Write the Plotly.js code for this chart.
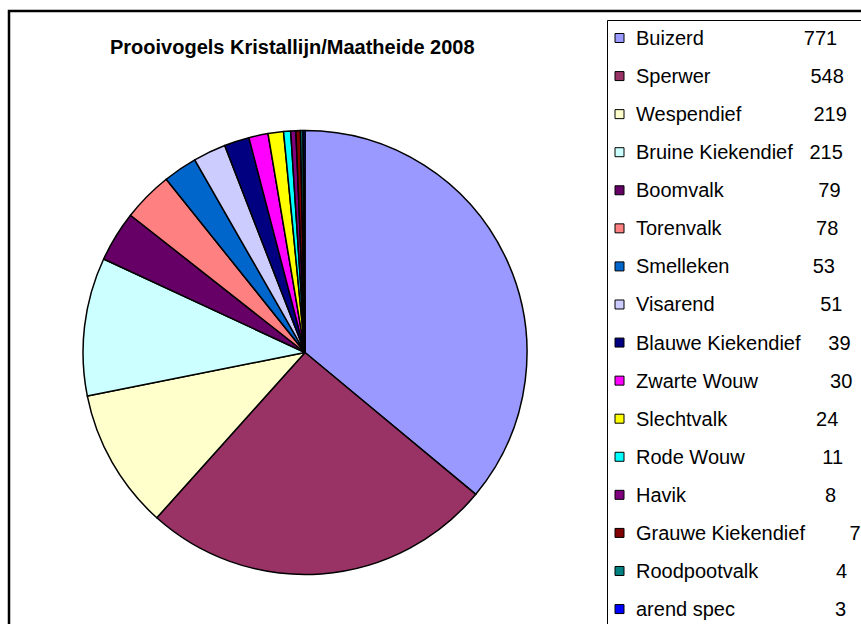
<!DOCTYPE html>
<html>
<head>
<meta charset="utf-8">
<script src="https://cdn.plot.ly/plotly-3.0.1.min.js"></script>
<style>
  html, body { margin: 0; padding: 0; background: #ffffff; }
  #chart { width: 861px; height: 624px; }
</style>
</head>
<body>
<div id="chart"></div>
<script>
// ---- data ----
const chartTitle = "Prooivogels Kristallijn/Maatheide 2008";
const species = [
  "Buizerd", "Sperwer", "Wespendief", "Bruine Kiekendief", "Boomvalk",
  "Torenvalk", "Smelleken", "Visarend", "Blauwe Kiekendief", "Zwarte Wouw",
  "Slechtvalk", "Rode Wouw", "Havik", "Grauwe Kiekendief", "Roodpootvalk", "arend spec"
];
const counts = [771, 548, 219, 215, 79, 78, 53, 51, 39, 30, 24, 11, 8, 7, 4, 3];
const sliceColors = [
  "#9999FF", "#993366", "#FFFFCC", "#CCFFFF", "#660066",
  "#FF8080", "#0066CC", "#CCCCFF", "#000080", "#FF00FF",
  "#FFFF00", "#00FFFF", "#800080", "#800000", "#008080", "#0000FF"
];

// ---- layout helpers (legend text padding, as in the original category text) ----
const padSpaces = [18, 18, 13, 3, 17, 17, 15, 19, 5, 13, 16, 14, 25, 8, 14, 18];

const W = 861, H = 624;
const px = x => x / W;
const py = y => 1 - y / H;

const trace = {
  type: "pie",
  labels: species,
  values: counts,
  sort: false,
  direction: "clockwise",
  rotation: 0,
  textinfo: "none",
  hoverinfo: "label+value+percent",
  marker: { colors: sliceColors, line: { color: "#000000", width: 1.5 } },
  domain: { x: [px(83), px(527)], y: [py(575), py(130)] },
  showlegend: false
};

const shapes = [
  // outer chart border
  { type: "rect", xref: "paper", yref: "paper", x0: px(9), x1: px(875), y0: py(11), y1: py(640),
    line: { color: "#000000", width: 2.5 }, fillcolor: "rgba(0,0,0,0)" },
  // legend box
  { type: "rect", xref: "paper", yref: "paper", x0: px(607.5), x1: px(880), y0: py(20.5), y1: py(640),
    line: { color: "#000000", width: 1 }, fillcolor: "rgba(0,0,0,0)" }
];
const annotations = [
  { text: "<b>" + chartTitle + "</b>", xref: "paper", yref: "paper", x: px(292), y: py(47),
    xanchor: "center", yanchor: "middle", showarrow: false,
    font: { family: "Liberation Sans, Arial, sans-serif", size: 20, color: "#000000" } }
];

const rowTop = 38, rowStep = 38.07;
species.forEach((name, i) => {
  const yc = rowTop + rowStep * i;
  shapes.push({ type: "rect", xref: "paper", yref: "paper",
    x0: px(615), x1: px(624), y0: py(yc + 4.5), y1: py(yc - 4.5),
    fillcolor: sliceColors[i], line: { color: "#000000", width: 1 } });
  annotations.push({
    text: name + "\u00a0".repeat(padSpaces[i]) + counts[i],
    xref: "paper", yref: "paper", x: px(634), y: py(yc),
    xanchor: "left", yanchor: "middle", showarrow: false,
    font: { family: "Liberation Sans, Arial, sans-serif", size: 20, color: "#000000" }
  });
});

const layout = {
  width: W, height: H,
  margin: { l: 0, r: 0, t: 0, b: 0 },
  paper_bgcolor: "#ffffff",
  showlegend: false,
  shapes: shapes,
  annotations: annotations
};

Plotly.newPlot("chart", [trace], layout, { displayModeBar: false, staticPlot: true });
</script>
</body>
</html>
